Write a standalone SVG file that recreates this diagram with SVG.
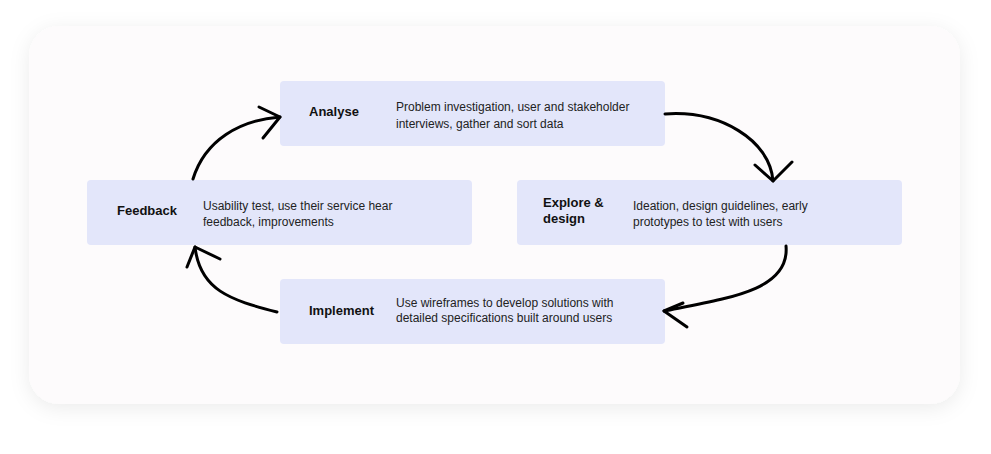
<svg xmlns="http://www.w3.org/2000/svg" width="991" height="454" viewBox="0 0 991 454">
<style>
.node{fill:#e3e6fa}
.t{font-family:"Liberation Sans",Arial,sans-serif;font-size:13px;font-weight:bold;fill:#111}
.d{font-family:"Liberation Sans",Arial,sans-serif;font-size:12px;fill:#222}
.c{fill:none;stroke:#000;stroke-width:3;stroke-linecap:round;stroke-linejoin:round}
</style>
<defs>
<filter id="sh" x="-10%" y="-10%" width="120%" height="130%">
<feDropShadow dx="0" dy="4" stdDeviation="10" flood-color="#000" flood-opacity="0.08"/>
</filter>
</defs>
<rect width="991" height="454" fill="#ffffff"/>
<rect x="29" y="26" width="931" height="378" rx="30" fill="#fdfbfc" filter="url(#sh)"/>
<g id="analyse">
<rect class="node" x="280" y="81" width="385" height="65" rx="4"/>
<text class="t" x="309" y="116">Analyse</text>
<text class="d" x="396" y="111">Problem investigation, user and stakeholder</text>
<text class="d" x="396" y="128">interviews, gather and sort data</text>
</g>
<g id="explore">
<rect class="node" x="517" y="180" width="385" height="65" rx="4"/>
<text class="t" x="543" y="207">Explore &amp;</text>
<text class="t" x="543" y="223">design</text>
<text class="d" x="633" y="210">Ideation, design guidelines, early</text>
<text class="d" x="633" y="226">prototypes to test with users</text>
</g>
<g id="implement">
<rect class="node" x="280" y="279" width="385" height="65" rx="4"/>
<text class="t" x="309" y="315">Implement</text>
<text class="d" x="396" y="307">Use wireframes to develop solutions with</text>
<text class="d" x="396" y="322">detailed specifications built around users</text>
</g>
<g id="feedback">
<rect class="node" x="87" y="180" width="385" height="65" rx="4"/>
<text class="t" x="117" y="215">Feedback</text>
<text class="d" x="203" y="210">Usability test, use their service hear</text>
<text class="d" x="203" y="226">feedback, improvements</text>
</g>
<g id="connectors">
<path class="c" d="M665,114 C720,110 770,140 773,181"/>
<path class="c" d="M755,165 L773,181 L792,162"/>
<path class="c" d="M786,246 C790,290 730,298 664,311"/>
<path class="c" d="M683,303 L664,311 L687,327"/>
<path class="c" d="M277,312 C230,300 200,290 195,247"/>
<path class="c" d="M187,267 L195,247 L220,259"/>
<path class="c" d="M193,179 C205,140 240,120 280,117"/>
<path class="c" d="M259,107 L280,117 L263,138"/>
</g>
</svg>
